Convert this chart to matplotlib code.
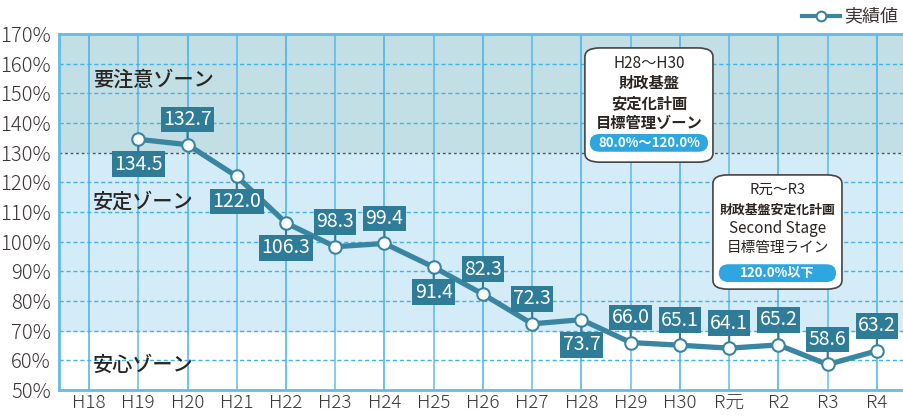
import matplotlib

matplotlib.use("Agg")
import matplotlib.pyplot as plt
from matplotlib.patches import FancyBboxPatch

plt.rcParams["font.family"] = ["Noto Sans CJK JP", "DejaVu Sans"]

YEARS = ["H18", "H19", "H20", "H21", "H22", "H23", "H24", "H25", "H26",
         "H27", "H28", "H29", "H30", "R元", "R2", "R3", "R4"]
# H18 has no value in the chart
VALUES = [None, 134.5, 132.7, 122.0, 106.3, 98.3, 99.4, 91.4, 82.3,
          72.3, 73.7, 66.0, 65.1, 64.1, 65.2, 58.6, 63.2]
# +1 = label above the point, -1 = below
LABEL_SIDE = [0, -1, 1, -1, -1, 1, 1, -1, 1, 1, -1, 1, 1, 1, 1, 1, 1]
YTICKS = list(range(50, 171, 10))

LINE_C = "#3a86a2"
BOX_C = "#2f7c98"
GRID_C = "#45b2e6"
PILL_C = "#2ea7e0"
TXT_C = "#2b2522"

fig = plt.figure(figsize=(9.04, 4.16), dpi=100)
ax = fig.add_axes([59 / 904, 26 / 416, 845 / 904, 356 / 416])

x = list(range(len(YEARS)))
ax.set_xlim(-0.61, 16.55)
ax.set_ylim(50, 170)

# zones
ax.axhspan(130, 170, color="#c1dfe5", zorder=0)
ax.axhspan(70, 130, color="#d4ecf8", zorder=0)

# grid
for v in YTICKS[1:-1]:
    if v == 130:
        ax.axhline(v, color="#555555", lw=1, ls=(0, (2, 2)), zorder=1)
    else:
        ax.axhline(v, color=GRID_C, lw=1, ls=(0, (3, 2)), zorder=1)
for i in x:
    ax.axvline(i, color=GRID_C, lw=1.1, alpha=0.85 if i % 2 else 1, zorder=1)

for s in ["left", "top", "bottom"]:
    ax.spines[s].set_color("#62bbe8")
    ax.spines[s].set_linewidth(2)
ax.spines["right"].set_visible(False)

ax.set_yticks(YTICKS)
ax.set_yticklabels([f"{v}%" for v in YTICKS], fontsize=14.5, color="#3a3433",
                   fontweight="light")
ax.set_xticks(x)
ax.set_xticklabels(YEARS, fontsize=13.5, color="#3a3433", fontweight="light")
ax.tick_params(axis="both", length=0)
ax.tick_params(axis="x", pad=3)
ax.tick_params(axis="y", pad=6)

# data line
px = [i for i, v in zip(x, VALUES) if v is not None]
py = [v for v in VALUES if v is not None]
ax.plot(px, py, color=LINE_C, lw=3.8, marker="o", ms=9,
        markerfacecolor="white", markeredgecolor=LINE_C, markeredgewidth=1.5,
        zorder=5)

for i, v, side in zip(x, VALUES, LABEL_SIDE):
    if v is None:
        continue
    ax.annotate(f"{v:.1f}", (i, v), xytext=(0, 18 * side), textcoords="offset points",
                ha="center", va="center", fontsize=14, color="white",
                family=["Liberation Sans Narrow", "Noto Sans CJK JP"],
                bbox=dict(boxstyle="square,pad=0.12", fc=BOX_C, ec="none"),
                arrowprops=dict(arrowstyle="-", color=BOX_C, lw=1.5,
                                shrinkA=0, shrinkB=5),
                zorder=6)

# zone labels
zone_kw = dict(fontsize=14.5, color=TXT_C, ha="left", va="center",
               fontweight="medium", zorder=4)
ax.text(0.08, 154.5, "要注意ゾーン", **zone_kw)
ax.text(0.08, 113.5, "安定ゾーン", **zone_kw)
ax.text(0.08, 58.5, "安心ゾーン", **zone_kw)


# target boxes
def target_box(x0, x1, y0, y1, lines, pill, pill_w):
    ax.add_patch(FancyBboxPatch((x0, y0), x1 - x0, y1 - y0,
                                boxstyle="round,pad=0,rounding_size=0.3",
                                mutation_aspect=10,
                                fc="white", ec="#444444", lw=1.2, zorder=7))
    cx = (x0 + x1) / 2
    for yy, txt, fs, fw in lines:
        ax.text(cx, yy, txt, ha="center", va="center", fontsize=fs,
                fontweight=fw, color=TXT_C, zorder=8)
    py_, ptxt = pill
    ax.add_patch(FancyBboxPatch((cx - pill_w / 2, py_ - 3.0), pill_w, 6.0,
                                boxstyle="round,pad=0,rounding_size=0.2",
                                mutation_aspect=15,
                                fc=PILL_C, ec="none", zorder=8))
    ax.text(cx, py_, ptxt, ha="center", va="center", fontsize=9.5,
            fontweight="bold", color="white", zorder=9)


target_box(10.07, 12.67, 126.8, 165.3,
           [(160.2, "H28〜H30", 11, "normal"),
            (153.6, "財政基盤", 11, "bold"),
            (146.7, "安定化計画", 11, "bold"),
            (140.0, "目標管理ゾーン", 11, "bold")],
           (133.3, "80.0%〜120.0%"), 2.4)
target_box(12.67, 15.29, 84.0, 122.5,
           [(117.4, "R元〜R3", 10.5, "normal"),
            (110.7, "財政基盤安定化計画", 9.3, "bold"),
            (104.5, "Second Stage", 11, "normal"),
            (97.9, "目標管理ライン", 10.5, "normal")],
           (89.4, "120.0%以下"), 2.38)

# legend
fig.add_artist(plt.Line2D([802 / 904, 840 / 904], [1 - 16 / 416, 1 - 16 / 416],
                          color=LINE_C, lw=3, transform=fig.transFigure))
fig.add_artist(plt.Line2D([821 / 904], [1 - 16 / 416], color=LINE_C, marker="o",
                          ms=7, markerfacecolor="white", markeredgewidth=1.5,
                          transform=fig.transFigure))
fig.text(844 / 904, 1 - 16 / 416, "実績値", fontsize=13, color="#3a3433",
         ha="left", va="center")

fig.savefig("out.png", dpi=100)
